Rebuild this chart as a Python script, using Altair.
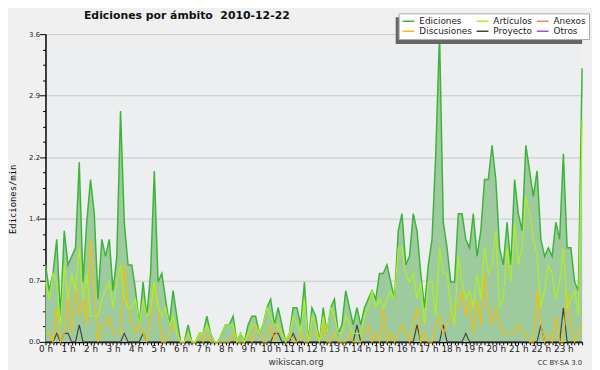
import altair as alt
import pandas as pd

# ---- data: edits per minute, 10-minute bins, 2010-12-22 ----
ediciones = [
    0.9, 0.6, 0.8, 1.2, 0.3, 1.3, 0.9, 1.0, 1.1, 2.1, 0.7, 1.4,
    1.9, 1.5, 0.5, 1.2, 1.0, 1.2, 0.6, 1.0, 2.7, 1.4, 0.9, 0.9,
    0.6, 0.2, 0.7, 0.3, 0.8, 2.0, 0.7, 0.8, 0.5, 0.2, 0.6, 0.3,
    0.0, 0.0, 0.2, 0.0, 0.0, 0.1, 0.1, 0.3, 0.1, 0.0, 0.0, 0.1,
    0.2, 0.2, 0.3, 0.0, 0.1, 0.0, 0.2, 0.3, 0.3, 0.1, 0.2, 0.4,
    0.5, 0.2, 0.4, 0.2, 0.0, 0.1, 0.4, 0.4, 0.2, 0.7, 0.0, 0.4,
    0.3, 0.0, 0.4, 0.1, 0.4, 0.5, 0.1, 0.2, 0.6, 0.4, 0.2, 0.4,
    0.2, 0.4, 0.5, 0.6, 0.5, 0.8, 0.8, 0.9, 0.7, 0.5, 1.3, 1.5,
    0.9, 1.0, 1.5, 1.3, 0.8, 0.4, 0.9, 1.2, 2.2, 3.6, 1.4, 1.1,
    0.7, 0.7, 1.5, 1.5, 1.2, 1.1, 1.5, 1.0, 1.3, 1.9, 1.9, 2.3,
    1.9, 1.1, 0.9, 1.4, 0.9, 1.9, 1.5, 1.3, 2.3, 2.0, 1.7, 2.0,
    1.2, 1.0, 1.1, 1.0, 1.4, 1.2, 2.2, 1.1, 1.1, 0.7, 0.6, 3.2,
]
articulos = [
    0.7, 0.5, 0.8, 0.7, 0.2, 0.9, 0.5, 0.8, 0.6, 1.1, 0.5, 0.8,
    0.3, 0.3, 0.3, 0.5, 0.6, 0.7, 0.4, 0.7, 0.9, 0.5, 0.4, 0.4,
    0.5, 0.2, 0.5, 0.3, 0.4, 0.7, 0.4, 0.3, 0.4, 0.2, 0.3, 0.1,
    0.0, 0.0, 0.1, 0.0, 0.0, 0.1, 0.1, 0.2, 0.1, 0.0, 0.0, 0.1,
    0.2, 0.2, 0.2, 0.0, 0.1, 0.0, 0.1, 0.2, 0.2, 0.1, 0.2, 0.4,
    0.3, 0.2, 0.2, 0.1, 0.0, 0.1, 0.3, 0.2, 0.1, 0.5, 0.0, 0.3,
    0.2, 0.0, 0.3, 0.1, 0.4, 0.3, 0.1, 0.1, 0.3, 0.2, 0.1, 0.1,
    0.1, 0.3, 0.4, 0.6, 0.4, 0.5, 0.4, 0.5, 0.6, 0.5, 1.1, 1.1,
    0.8, 0.7, 0.8, 0.5, 0.7, 0.2, 0.7, 0.7, 0.3, 1.1, 0.8, 0.8,
    0.4, 0.2, 1.0, 0.7, 0.5, 0.6, 0.4, 0.8, 0.5, 1.1, 0.8, 0.9,
    1.3, 0.4, 0.5, 1.1, 0.7, 1.4, 0.9, 1.1, 1.7, 1.5, 1.2, 1.0,
    0.4, 0.6, 0.9, 0.8, 0.5, 0.7, 1.1, 0.4, 0.5, 0.6, 0.3, 2.6,
]
discusiones = [
    0.1, 0.1, 0.0, 0.4, 0.0, 0.1, 0.6, 0.1, 0.7, 0.3, 0.5, 0.2,
    1.2, 0.6, 0.0, 0.2, 0.2, 0.3, 0.1, 0.1, 0.1, 0.9, 0.4, 0.2,
    0.1, 0.2, 0.1, 0.0, 0.3, 0.7, 0.4, 0.0, 0.0, 0.1, 0.2, 0.1,
    0.0, 0.0, 0.1, 0.0, 0.0, 0.1, 0.0, 0.1, 0.0, 0.0, 0.0, 0.0,
    0.0, 0.0, 0.1, 0.0, 0.0, 0.0, 0.1, 0.0, 0.2, 0.1, 0.0, 0.0,
    0.2, 0.0, 0.2, 0.1, 0.0, 0.1, 0.0, 0.0, 0.1, 0.0, 0.0, 0.1,
    0.1, 0.0, 0.2, 0.0, 0.0, 0.1, 0.0, 0.0, 0.0, 0.1, 0.0, 0.0,
    0.0, 0.1, 0.2, 0.0, 0.1, 0.0, 0.4, 0.0, 0.1, 0.0, 0.1, 0.2,
    0.1, 0.0, 0.2, 0.4, 0.0, 0.1, 0.0, 0.0, 0.2, 0.3, 0.1, 0.2,
    0.3, 0.4, 0.4, 0.6, 0.3, 0.5, 0.1, 0.5, 0.2, 0.8, 0.4, 0.2,
    0.4, 0.2, 0.1, 0.1, 0.1, 0.1, 0.2, 0.1, 0.1, 0.0, 0.0, 0.6,
    0.2, 0.0, 0.1, 0.0, 0.3, 0.0, 0.0, 0.6, 0.2, 0.0, 0.1, 0.2,
]
proyecto = [
    0.0, 0.0, 0.0, 0.1, 0.0, 0.1, 0.1, 0.0, 0.0, 0.2, 0.0, 0.0,
    0.0, 0.0, 0.0, 0.0, 0.0, 0.0, 0.0, 0.0, 0.0, 0.1, 0.0, 0.0,
    0.0, 0.0, 0.1, 0.0, 0.0, 0.0, 0.0, 0.0, 0.0, 0.0, 0.0, 0.0,
    0.0, 0.0, 0.0, 0.0, 0.0, 0.0, 0.0, 0.0, 0.0, 0.0, 0.0, 0.0,
    0.0, 0.0, 0.0, 0.0, 0.0, 0.0, 0.0, 0.0, 0.0, 0.0, 0.0, 0.0,
    0.0, 0.1, 0.1, 0.0, 0.0, 0.0, 0.1, 0.0, 0.0, 0.0, 0.0, 0.0,
    0.0, 0.0, 0.0, 0.0, 0.0, 0.0, 0.0, 0.0, 0.0, 0.0, 0.0, 0.2,
    0.0, 0.0, 0.0, 0.0, 0.0, 0.0, 0.0, 0.0, 0.0, 0.0, 0.0, 0.0,
    0.0, 0.0, 0.0, 0.2, 0.0, 0.0, 0.0, 0.0, 0.0, 0.0, 0.2, 0.0,
    0.0, 0.0, 0.0, 0.0, 0.1, 0.0, 0.0, 0.0, 0.0, 0.0, 0.0, 0.0,
    0.0, 0.0, 0.0, 0.0, 0.0, 0.0, 0.0, 0.0, 0.0, 0.0, 0.0, 0.0,
    0.2, 0.0, 0.0, 0.0, 0.0, 0.0, 0.4, 0.0, 0.0, 0.0, 0.0, 0.0,
]

series_names = ["Ediciones", "Artículos", "Anexos", "Discusiones", "Proyecto", "Otros"]
series_colors = ["#3cb43c", "#aef020", "#f4845f", "#f2c00a", "#444444", "#9b4dff"]
fill_color = "#9ecb9e"

title_text = "Ediciones por ámbito\u00a0\u00a02010-12-22"
y_title = "Ediciones/min"
footer_left = "wikiscan.org"
footer_right = "CC BY-SA 3.0"

rows = []
for name, vals in [("Ediciones", ediciones), ("Proyecto", proyecto),
                   ("Discusiones", discusiones), ("Artículos", articulos)]:
    for i, v in enumerate(vals):
        rows.append({"t": i / 6, "v": v, "serie": name})
df = pd.DataFrame(rows)
df_ed = df[df.serie == "Ediciones"]
df_rest = df[df.serie != "Ediciones"]

n = len(ediciones)
x_ticks = [i / 6 for i in range(n)]
y_ticks = [round(k * 0.18, 4) for k in range(21)]
major_test = "abs(datum.value/0.72 - round(datum.value/0.72)) < 0.01"

x_axis = alt.Axis(
    values=x_ticks,
    labelExpr="abs(datum.value - round(datum.value)) < 0.01 ? round(datum.value) + ' h' : ''",
    labelOverlap=False,
    labelFontSize=9,
    labelFont="DejaVu Sans",
    labelColor="#222",
    labelPadding=0,
    tickSize=3,
    tickColor="black",
    domainColor="black",
    domainWidth=1.5,
    grid=False,
    title=None,
    labelFlush=False,
)
y_axis = alt.Axis(
    values=y_ticks,
    labelExpr=f"{major_test} ? format(datum.value, '.1f') : ''",
    labelOverlap=False,
    labelFontSize=7,
    labelFont="DejaVu Sans",
    labelColor="#222",
    labelPadding=0,
    tickSize={"condition": {"test": major_test, "value": 6}, "value": 3},
    tickColor="black",
    domainColor="black",
    domainWidth=1.5,
    grid=True,
    gridColor="#c8c8c8",
    gridOpacity={"condition": {"test": major_test, "value": 1}, "value": 0},
    title=y_title,
    titleFont="DejaVu Sans Mono",
    titleFontSize=9,
    titleFontWeight="normal",
    titleColor="#111",
    titleAngle=270,
    titleX=-33,
    titleY=167,
    titleAlign="center",
    titleBaseline="middle",
)
x_scale = alt.Scale(domain=[0, (n - 1) / 6], nice=False, zero=False)
y_scale = alt.Scale(domain=[0, 3.6], nice=False)


def xe():
    return alt.X("t:Q", scale=x_scale, axis=x_axis)


def ye():
    return alt.Y("v:Q", scale=y_scale, axis=y_axis)


color_scale = alt.Scale(domain=series_names, range=series_colors)
legend = alt.Legend(
    title=None,
    orient="none",
    legendX=358,
    legendY=-21,
    columns=3,
    direction="horizontal",
    symbolType="stroke",
    symbolSize=144,
    symbolStrokeWidth=1.5,
    labelFontSize=9,
    labelFont="DejaVu Sans",
    labelColor="#222",
    labelOffset=4,
    columnPadding=3,
    rowPadding=0,
    padding=3,
    fillColor="white",
    strokeColor="#aaaaaa",
    clipHeight=10,
)

area = alt.Chart(df_ed).mark_area(color=fill_color, opacity=1).encode(x=xe(), y=ye())
line_ed = alt.Chart(df_ed).mark_line(strokeWidth=1.5).encode(
    x=xe(), y=ye(), color=alt.Color("serie:N", scale=color_scale, legend=legend)
)
line_rest = alt.Chart(df_rest).mark_line(strokeWidth=1.2).encode(
    x=xe(), y=ye(), color=alt.Color("serie:N", scale=color_scale, legend=legend)
)

shadow = alt.Chart(pd.DataFrame({"a": [0]})).mark_rect(color="#666666").encode(
    x=alt.value(355), x2=alt.value(544), y=alt.value(-17), y2=alt.value(10)
)

foot_l = alt.Chart(pd.DataFrame({"txt": [footer_left]})).mark_text(
    font="DejaVu Sans", fontSize=9, color="#333", align="center", baseline="alphabetic"
).encode(text="txt:N", x=alt.value(254), y=alt.value(335))
foot_r = alt.Chart(pd.DataFrame({"txt": [footer_right]})).mark_text(
    font="DejaVu Sans", fontSize=7, color="#333", align="right", baseline="alphabetic"
).encode(text="txt:N", x=alt.value(544), y=alt.value(335))

chart = alt.layer(area, line_ed, line_rest, shadow, foot_l, foot_r).properties(
    width=544,
    height=312,
    autosize=alt.AutoSizeParams(type="none"),
    padding={"left": 38, "top": 24, "right": 10, "bottom": 26},
    background="#f0f0f0",
    title=alt.TitleParams(
        text=title_text,
        anchor="start",
        frame="group",
        dx=39,
        dy=14,
        offset=6,
        font="DejaVu Sans",
        fontSize=11,
        fontWeight="bold",
        color="#111",
    ),
).configure_view(stroke=None, fill="#edeef0")

chart.save("out.html", embed_options={"renderer": "svg", "actions": False})
